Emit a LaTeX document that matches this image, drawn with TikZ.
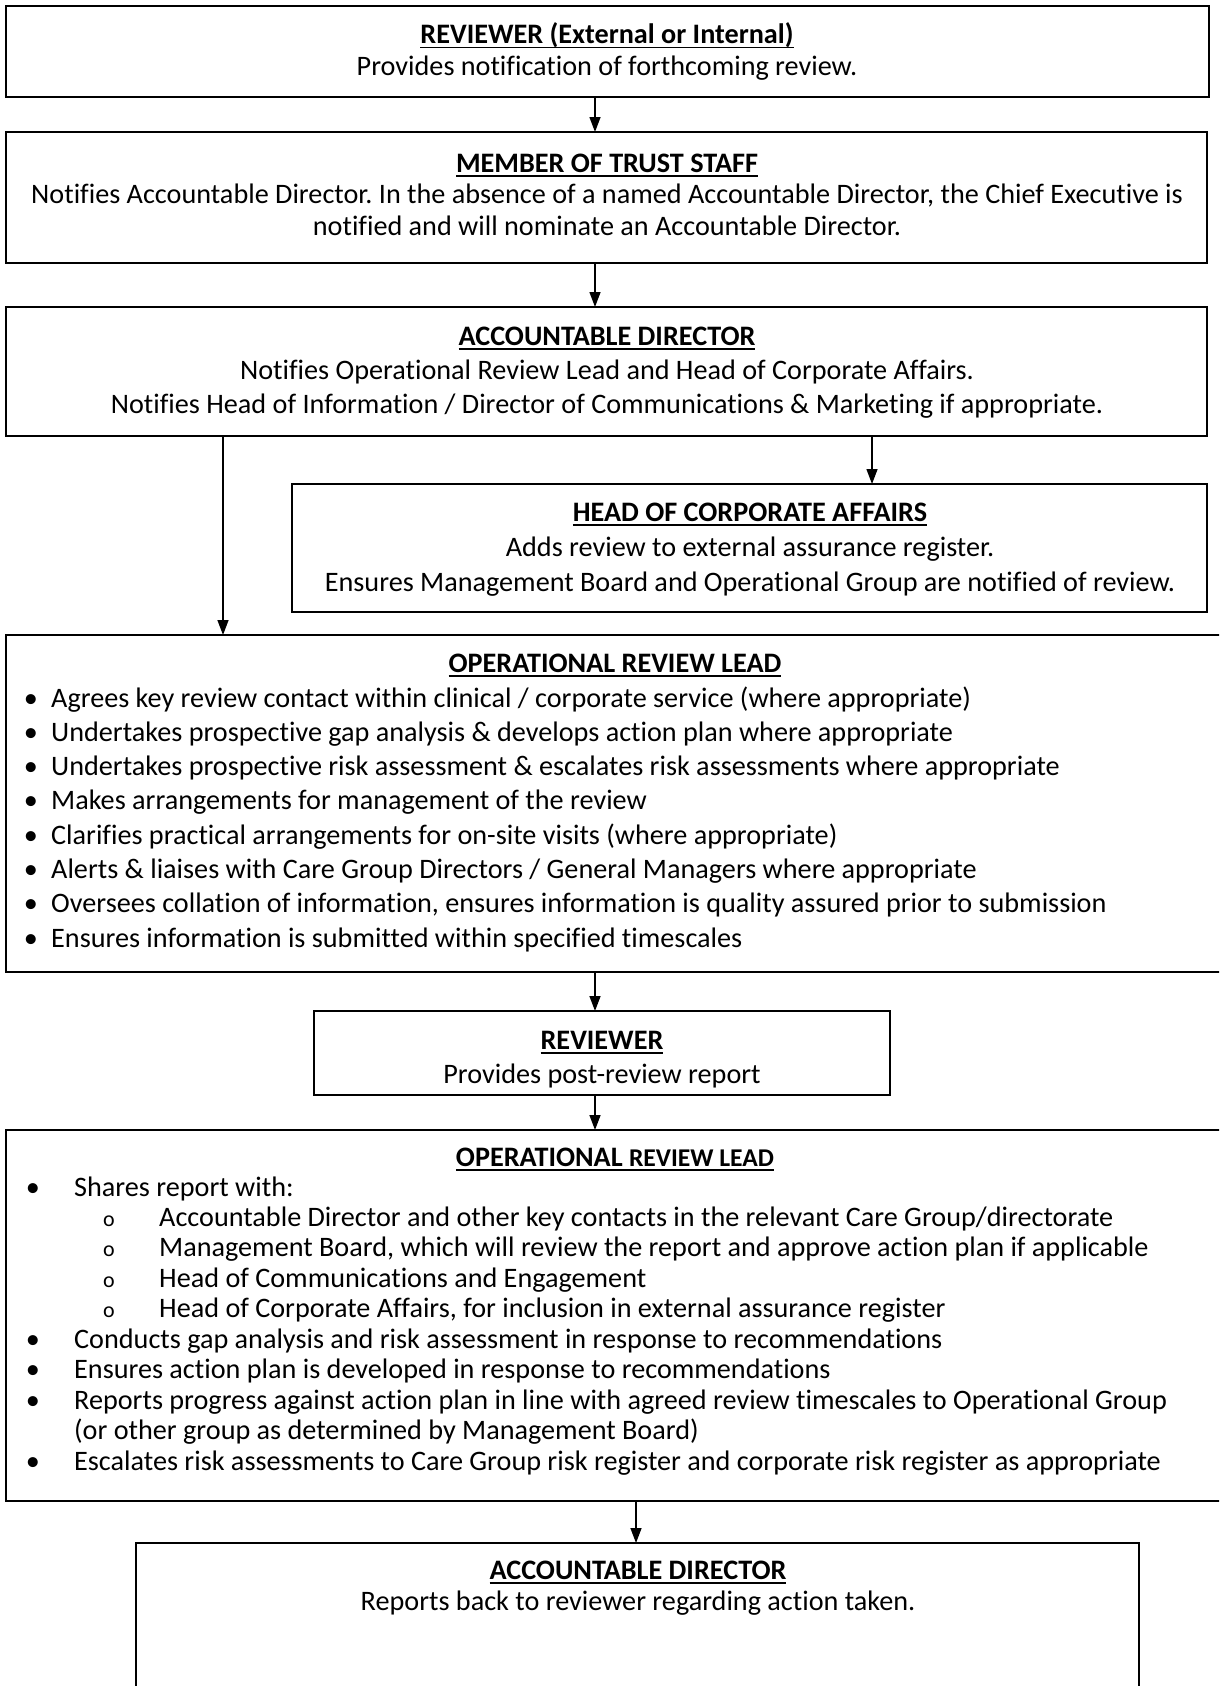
\documentclass[tikz,border=0pt]{standalone}
\usepackage{fontspec}
\setmainfont[Ligatures=NoCommon]{Carlito}
\usetikzlibrary{arrows.meta}
\frenchspacing
\newcommand{\ttl}[1]{\setbox0\hbox{\bfseries #1}\rlap{\rule[-4.5pt]{\wd0}{1.8pt}}\box0}
\begin{document}
\begin{tikzpicture}[x=1pt,y=-1pt,
  box/.style={draw, line width=1.8pt, rectangle, inner sep=0pt, outer sep=0pt},
  txt/.style={anchor=base, inner sep=0pt, font=\fontsize{28.2}{34}\selectfont},
  ltxt/.style={txt, anchor=base west},
  arr/.style={line width=1.4pt, -{Triangle[length=15pt,width=11pt]}}]
\useasboundingbox (0,0) rectangle (1219,1686);
\fill[white] (0,0) rectangle (1219,1686);
\clip (0,0) rectangle (1219,1686);

% boxes
\node[box, minimum width=1203pt, minimum height=91pt] (b1) at (607.5,51.5) {};
\node[box, minimum width=1201pt, minimum height=131pt] (b2) at (606.5,197.5) {};
\node[box, minimum width=1201pt, minimum height=129pt] (b3) at (606.5,371.5) {};
\node[box, minimum width=915pt, minimum height=128pt] (b4) at (749.5,548) {};
\node[box, minimum width=1220pt, minimum height=337pt] (b5) at (616,803.5) {};
\node[box, minimum width=576pt, minimum height=84pt] (b6) at (602,1053) {};
\node[box, minimum width=1220pt, minimum height=371pt] (b7) at (616,1315.5) {};
\node[box, minimum width=1003pt, minimum height=157pt] (b8) at (637.5,1621.5) {};

% arrow columns
\coordinate (cm) at (595,0);
\coordinate (cr) at (872,0);
\coordinate (cl) at (223,0);
\coordinate (cb) at (636,0);
\draw[arr] (b1.south -| cm) -- (b2.north -| cm);
\draw[arr] (b2.south -| cm) -- (b3.north -| cm);
\draw[arr] (b3.south -| cr) -- (b4.north -| cr);
\draw[arr] (b3.south -| cl) -- (b5.north -| cl);
\draw[arr] (b5.south -| cm) -- (b6.north -| cm);
\draw[arr] (b6.south -| cm) -- (b7.north -| cm);
\draw[arr] (b7.south -| cb) -- (b8.north -| cb);

% box 1
\node[txt] (t1a) at (607,44) {\ttl{REVIEWER (External or Internal)}};
\node[txt] (t1b) at (607,75) {Provides notification of forthcoming review.};
% box 2
\node[txt] (t2a) at (607,172) {\ttl{MEMBER OF TRUST STAFF}};
\node[txt] (t2b) at (607,203) {Notifies Accountable Director. In the absence of a named Accountable Director, the Chief Executive is};
\node[txt] (t2c) at (607,235) {notified and will nominate an Accountable Director.};
% box 3
\node[txt] (t3a) at (607,345) {\ttl{ACCOUNTABLE DIRECTOR}};
\node[txt] (t3b) at (607,379) {Notifies Operational Review Lead and Head of Corporate Affairs.};
\node[txt] (t3c) at (607,413) {Notifies Head of Information / Director of Communications \& Marketing if appropriate.};
% box 4
\node[txt] (t4a) at (750,521) {\ttl{HEAD OF CORPORATE AFFAIRS}};
\node[txt] (t4b) at (750,556) {Adds review to external assurance register.};
\node[txt] (t4c) at (750,591) {Ensures Management Board and Operational Group are notified of review.};
% box 5
\node[txt] (t5a) at (615,672) {\ttl{OPERATIONAL REVIEW LEAD}};
\foreach \t [count=\i] in {
  {Agrees key review contact within clinical / corporate service (where appropriate)},
  {Undertakes prospective gap analysis \& develops action plan where appropriate},
  {Undertakes prospective risk assessment \& escalates risk assessments where appropriate},
  {Makes arrangements for management of the review},
  {Clarifies practical arrangements for on-site visits (where appropriate)},
  {Alerts \& liaises with Care Group Directors / General Managers where appropriate},
  {Oversees collation of information, ensures information is quality assured prior to submission},
  {Ensures information is submitted within specified timescales}}
{
  \node[txt] (p5b\i) at (31,{707+34.3*(\i-1)}) {•};
  \node[ltxt] (p5t\i) at (51,{707+34.3*(\i-1)}) {\t};
}
% box 6
\node[txt] (t6a) at (602,1049) {\ttl{REVIEWER}};
\node[txt] (t6b) at (602,1083) {Provides post-review report};
% box 7
\node[txt] (t7a) at (615,1166) {\ttl{OPERATIONAL {\fontsize{25.6}{30}\selectfont REVIEW LEAD}}};
\node[txt] (q1b) at (33,1196) {•};
\node[ltxt] (q1) at (74,1196) {Shares report with:};
\node[txt] (q2b) at (109,1226) {\fontsize{22}{26}\selectfont o};
\node[ltxt] (q2) at (159,1226) {Accountable Director and other key contacts in the relevant Care Group/directorate};
\node[txt] (q3b) at (109,1256) {\fontsize{22}{26}\selectfont o};
\node[ltxt] (q3) at (159,1256) {Management Board, which will review the report and approve action plan if applicable};
\node[txt] (q4b) at (109,1287) {\fontsize{22}{26}\selectfont o};
\node[ltxt] (q4) at (159,1287) {Head of Communications and Engagement};
\node[txt] (q5b) at (109,1317) {\fontsize{22}{26}\selectfont o};
\node[ltxt] (q5) at (159,1317) {Head of Corporate Affairs, for inclusion in external assurance register};
\node[txt] (q6b) at (33,1348) {•};
\node[ltxt] (q6) at (74,1348) {Conducts gap analysis and risk assessment in response to recommendations};
\node[txt] (q7b) at (33,1378) {•};
\node[ltxt] (q7) at (74,1378) {Ensures action plan is developed in response to recommendations};
\node[txt] (q8b) at (33,1409) {•};
\node[ltxt] (q8) at (74,1409) {Reports progress against action plan in line with agreed review timescales to Operational Group};
\node[ltxt] (q9) at (74,1439) {(or other group as determined by Management Board)};
\node[txt] (q10b) at (33,1470) {•};
\node[ltxt] (q10) at (74,1470) {Escalates risk assessments to Care Group risk register and corporate risk register as appropriate};
% box 8
\node[txt] (t8a) at (638,1579) {\ttl{ACCOUNTABLE DIRECTOR}};
\node[txt] (t8b) at (638,1610) {Reports back to reviewer regarding action taken.};
\end{tikzpicture}
\end{document}
